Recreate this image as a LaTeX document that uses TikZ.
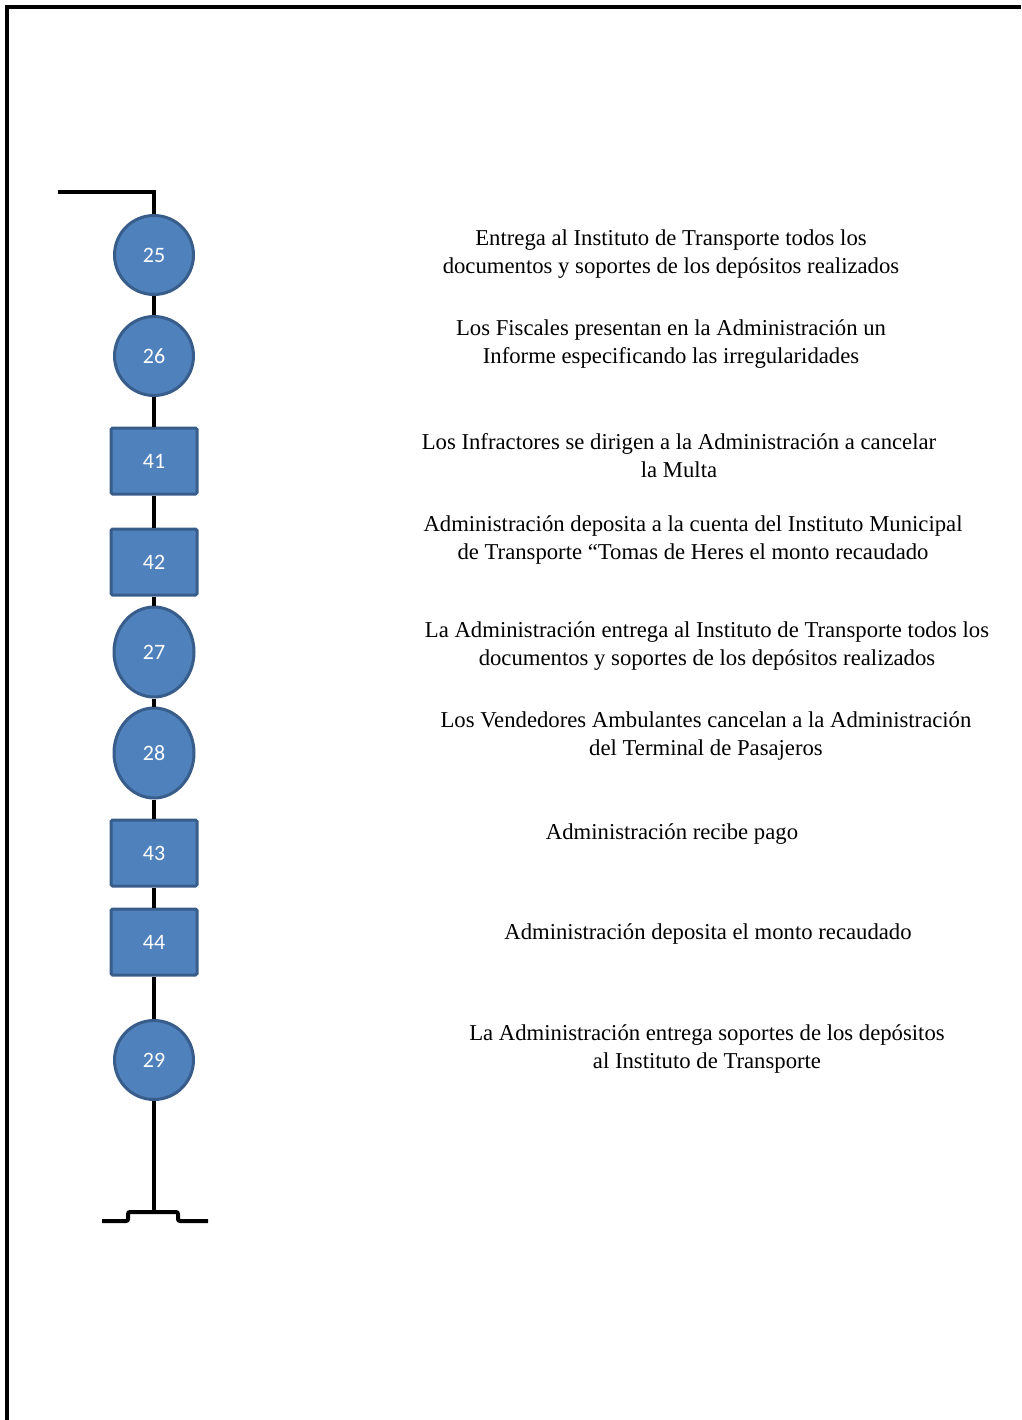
\documentclass[tikz,border=0pt]{standalone}
\usepackage{fontspec}
\setmainfont{Liberation Serif}
\newfontfamily\numfont{Carlito}
\usetikzlibrary{shapes.geometric, positioning}
\definecolor{stepblue}{HTML}{4F81BD}
\definecolor{stepedge}{HTML}{385D8A}
\tikzstyle{stepcircle}=[circle, draw=stepedge, fill=stepblue, line width=3pt,
  minimum size=79pt, inner sep=0pt, text=white, font=\numfont\fontsize{22}{26}\selectfont]
\tikzstyle{stepoval}=[ellipse, draw=stepedge, fill=stepblue, line width=3pt,
  minimum width=80pt, minimum height=90pt, inner sep=0pt, text=white, font=\numfont\fontsize{22}{26}\selectfont]
\tikzstyle{stepbox}=[rectangle, rounded corners=1.5pt, draw=stepedge, fill=stepblue, line width=3pt,
  minimum width=86pt, minimum height=66pt, inner sep=0pt, text=white, font=\numfont\fontsize{22}{26}\selectfont]
\tikzstyle{desc}=[align=center, inner sep=0pt, font=\fontsize{22.7}{28}\selectfont]
\tikzstyle{flow}=[line width=4pt, black]

\begin{document}
\begin{tikzpicture}[x=1pt, y=-1pt]
  \useasboundingbox (0,0) rectangle (1021,1420);
  % frame
  \draw[line width=3.5pt] (7,1420) -- (7,7) -- (1021,7);

  % steps
  \node[stepcircle] (n25) at (154,255)  {25};
  \node[stepcircle] (n26) at (154,356)  {26};
  \node[stepbox]    (n41) at (154,461)  {41};
  \node[stepbox]    (n42) at (154,562)  {42};
  \node[stepoval]   (n27) at (154,652)  {27};
  \node[stepoval]   (n28) at (154,753)  {28};
  \node[stepbox]    (n43) at (154,853)  {43};
  \node[stepbox]    (n44) at (154,942)  {44};
  \node[stepcircle] (n29) at (154,1060) {29};

  % start and end
  \coordinate (start) at (58,192);
  \coordinate (endtop) at (154,1212);
  \coordinate (endleft) at (102,1221);
  \coordinate (endright) at (208,1221);

  \draw[flow] (start) -| (n25.north);
  \draw[flow] (n25) -- (n26);
  \draw[flow] (n26) -- (n41);
  \draw[flow] (n41) -- (n42);
  \draw[flow] (n42) -- (n27);
  \draw[flow] (n27) -- (n28);
  \draw[flow] (n28) -- (n43);
  \draw[flow] (n43) -- (n44);
  \draw[flow] (n44) -- (n29);
  \draw[flow] (n29) -- (endtop);
  \draw[flow, rounded corners=2pt] (endleft) -- (128,1221) -- (128,1212)
    -- (178,1212) -- (178,1221) -- (endright);

  % descriptions
  \node[desc] (d25) at (671,254)  {Entrega al Instituto de Transporte todos los\\documentos y soportes de los depósitos realizados};
  \node[desc] (d26) at (671,344)  {Los Fiscales presentan en la Administración un\\Informe especificando las irregularidades};
  \node[desc] (d41) at (679,456)  {Los Infractores se dirigen a la Administración a cancelar\\la Multa};
  \node[desc] (d42) at (693,540)  {Administración deposita a la cuenta del Instituto Municipal\\de Transporte “Tomas de Heres el monto recaudado};
  \node[desc] (d27) at (707,646)  {La Administración entrega al Instituto de Transporte todos los\\documentos y soportes de los depósitos realizados};
  \node[desc] (d28) at (706,736)  {Los Vendedores Ambulantes cancelan a la Administración\\del Terminal de Pasajeros};
  \node[desc] (d43) at (672,834)  {Administración recibe pago};
  \node[desc] (d44) at (708,934)  {Administración deposita el monto recaudado};
  \node[desc] (d29) at (707,1049) {La Administración entrega soportes de los depósitos\\al Instituto de Transporte};
\end{tikzpicture}
\end{document}
